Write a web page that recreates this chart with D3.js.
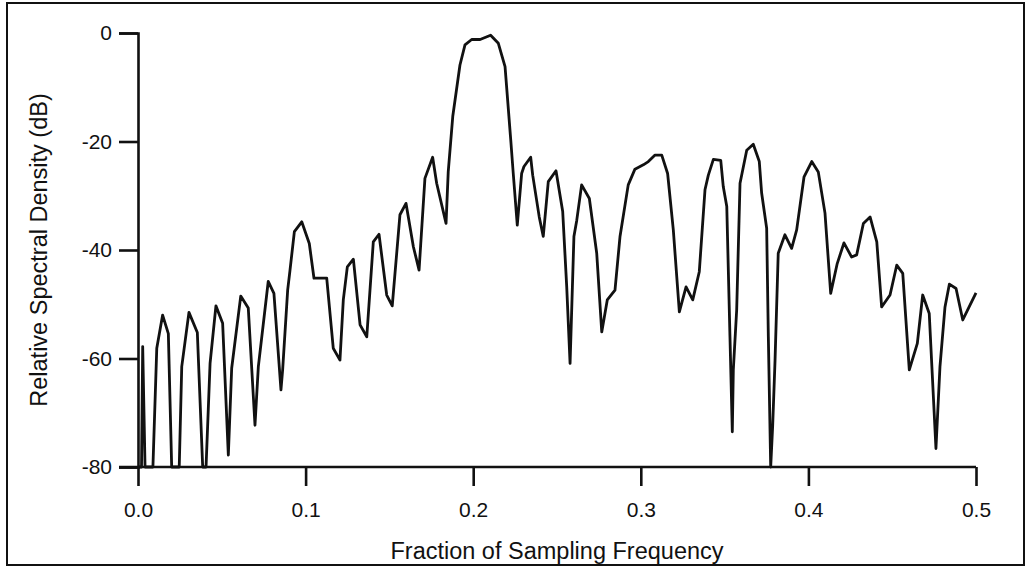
<!DOCTYPE html>
<html>
<head>
<meta charset="utf-8">
<script src="https://cdn.jsdelivr.net/npm/d3@7"></script>
<style>
  body { margin: 0; background: #fff; }
  text { font-family: "Liberation Sans", Arial, Helvetica, sans-serif; fill: #111; }
</style>
</head>
<body>
<div id="chart"></div>
<script>
// spectrum: frequency (fraction of fs) and level (dB)
const freq = [
  0, 0.0021, 0.0028, 0.0042, 0.0089, 0.0112, 0.0147, 0.0181, 0.0201, 0.0246,
  0.0261, 0.0304, 0.0354, 0.0386, 0.0406, 0.0430, 0.0465, 0.0505, 0.0539, 0.0559,
  0.0613, 0.0658, 0.0698, 0.0718, 0.0777, 0.0811, 0.0853, 0.0863, 0.0893, 0.0907,
  0.0933, 0.0977, 0.1022, 0.1050, 0.1126, 0.1165, 0.1205, 0.1225, 0.1249, 0.1285,
  0.1325, 0.1365, 0.1404, 0.1438, 0.1484, 0.1517, 0.1563, 0.1599, 0.1643, 0.1677,
  0.1712, 0.1758, 0.1782, 0.1838, 0.1851, 0.1878, 0.1921, 0.1951, 0.1991, 0.2041,
  0.2104, 0.2150, 0.2190, 0.2224, 0.2239, 0.2263, 0.2289, 0.2303, 0.2343, 0.2355,
  0.2394, 0.2418, 0.2448, 0.2494, 0.2534, 0.2558, 0.2578, 0.2601, 0.2618, 0.2647,
  0.2693, 0.2737, 0.2767, 0.2800, 0.2846, 0.2876, 0.2925, 0.2965, 0.3015, 0.3045,
  0.3085, 0.3125, 0.3160, 0.3194, 0.3230, 0.3270, 0.3310, 0.3349, 0.3383, 0.3403,
  0.3433, 0.3477, 0.3492, 0.3513, 0.3532, 0.3546, 0.3552, 0.3572, 0.3592, 0.3632,
  0.3671, 0.3707, 0.3721, 0.3751, 0.3761, 0.3775, 0.3787, 0.3801, 0.3820, 0.3860,
  0.3900, 0.3930, 0.3974, 0.4020, 0.4059, 0.4099, 0.4133, 0.4172, 0.4212, 0.4258,
  0.4288, 0.4328, 0.4368, 0.4408, 0.4437, 0.4487, 0.4527, 0.4563, 0.4602, 0.4650,
  0.4682, 0.4721, 0.4761, 0.4785, 0.4815, 0.4841, 0.4881, 0.4921, 0.5
];
const level = [
  -80, -80, -57.8, -80, -80, -58.1, -52, -55.4, -80, -80,
  -61.5, -51.5, -55.2, -80, -80, -60.9, -50.3, -53.5, -77.8, -61.8,
  -48.5, -50.7, -72.3, -61.5, -45.8, -48, -65.8, -62.1, -47.4, -43.7,
  -36.6, -34.8, -38.8, -45.2, -45.2, -58.1, -60.3, -49.2, -43.1, -41.7,
  -53.8, -56, -38.5, -37.1, -48.3, -50.3, -33.5, -31.4, -39.4, -43.7,
  -26.8, -22.9, -27.7, -35.1, -25.6, -15.4, -5.9, -2.2, -1.2, -1.2,
  -0.4, -1.9, -6.2, -19.7, -25.9, -35.4, -25.9, -24.6, -22.9, -26.2,
  -33.9, -37.5, -27.4, -25.4, -32.9, -46.8, -60.9, -37.5, -34.5, -28,
  -30.5, -40.6, -55.1, -49.2, -47.4, -37.5, -28, -25.1, -24.3, -23.7,
  -22.5, -22.5, -25.9, -36.3, -51.4, -46.8, -49.2, -44, -28.9, -26.2,
  -23.3, -23.5, -28.3, -32, -56, -73.5, -62.1, -51.1, -27.7, -21.6,
  -20.5, -23.7, -29.5, -36, -56, -80, -72.3, -60.3, -40.6, -37.2,
  -39.7, -36.3, -26.5, -23.7, -25.6, -33.2, -48, -42.5, -38.7, -41.3,
  -40.9, -35.1, -33.9, -38.5, -50.5, -48.3, -42.8, -44.3, -62.1, -57.2,
  -48.3, -51.7, -76.6, -61.5, -50.5, -46.3, -47.1, -52.9, -47.9
];
const xTicks = [0, 0.1, 0.2, 0.3, 0.4, 0.5];
const yTicks = [0, -20, -40, -60, -80];

const width = 1030, height = 570;
const margin = { top: 33, right: 54, bottom: 103, left: 138 };

const svg = d3.select('#chart').append('svg')
    .attr('width', width)
    .attr('height', height);

// outer frame
svg.append('rect')
    .attr('x', 7).attr('y', 3)
    .attr('width', 1017).attr('height', 562)
    .attr('fill', 'none')
    .attr('stroke', '#111')
    .attr('stroke-width', 2);

const x = d3.scaleLinear().domain([0, 0.5]).range([margin.left, width - margin.right]);
const y = d3.scaleLinear().domain([-80, 0]).range([height - margin.bottom, margin.top]);

const xAxis = svg.append('g')
    .attr('transform', `translate(0,${height - margin.bottom})`)
    .call(d3.axisBottom(x).tickValues(xTicks).tickFormat(d3.format('.1f')).tickSize(19).tickPadding(16));

const yAxis = svg.append('g')
    .attr('transform', `translate(${margin.left},0)`)
    .call(d3.axisLeft(y).tickValues(yTicks).tickFormat(d => d).tickSize(19).tickPadding(7));

[xAxis, yAxis].forEach(g => {
    g.select('.domain').attr('stroke', '#111').attr('stroke-width', 2.6);
    g.selectAll('.tick line').attr('stroke', '#111').attr('stroke-width', 2.6);
    g.selectAll('.tick text').attr('font-size', 21).attr('fill', '#111')
        .style('font-family', '"Liberation Sans", Arial, sans-serif');
});
// x domain runs left past the y axis to the -80 tick, as in the original
xAxis.select('.domain').attr('d', `M${margin.left - 19},0H${width - margin.right}`);

const line = d3.line()
    .x((d, i) => x(freq[i]))
    .y(d => y(Math.max(-80, d)));

svg.append('path')
    .datum(level)
    .attr('fill', 'none')
    .attr('stroke', '#111')
    .attr('stroke-width', 2.8)
    .attr('stroke-linejoin', 'round')
    .attr('d', line);

svg.append('text')
    .attr('x', (margin.left + width - margin.right) / 2)
    .attr('y', 559)
    .attr('text-anchor', 'middle')
    .attr('font-size', 23.5)
    .text('Fraction of Sampling Frequency');

svg.append('text')
    .attr('transform', `translate(47,${(margin.top + height - margin.bottom) / 2}) rotate(-90)`)
    .attr('text-anchor', 'middle')
    .attr('font-size', 23.5)
    .text('Relative Spectral Density (dB)');
</script>
</body>
</html>
